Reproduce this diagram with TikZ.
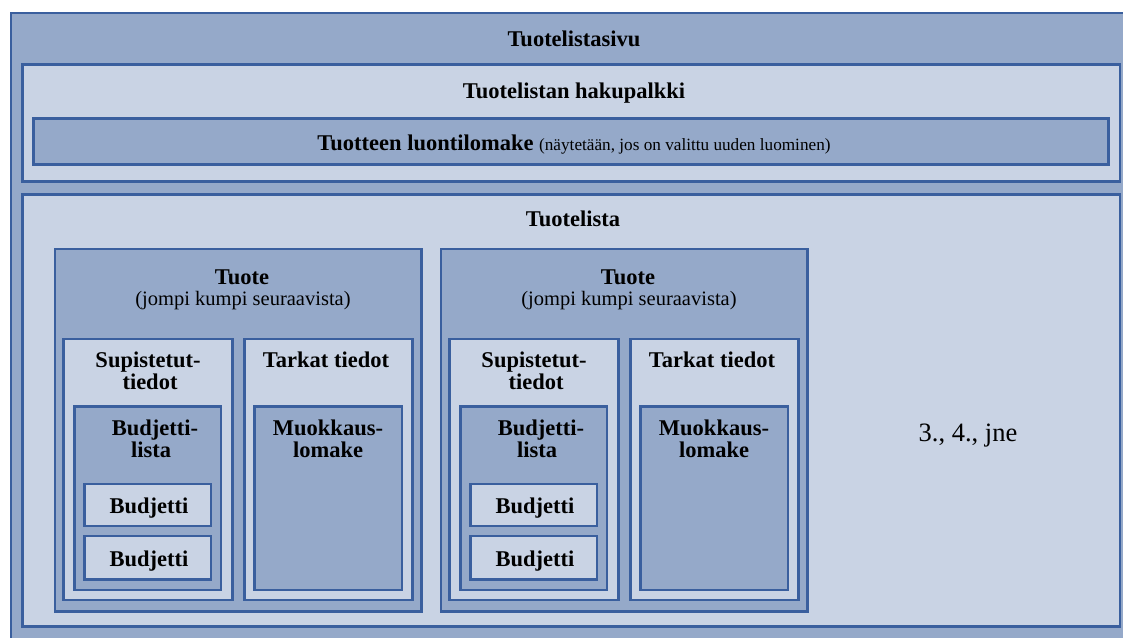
\documentclass[tikz,border=0pt]{standalone}
\usepackage{fontspec}
\setmainfont{Liberation Serif}
\definecolor{frameblue}{HTML}{3A5F9E}
\definecolor{darkfill}{HTML}{95A9C9}
\definecolor{lightfill}{HTML}{C9D3E4}
\tikzset{
  panel/.style={draw=frameblue, line width=2.5pt, inner sep=0pt, outer sep=0pt, anchor=north west},
  darkpanel/.style={panel, fill=darkfill},
  lightpanel/.style={panel, fill=lightfill},
  head/.style={anchor=base, inner sep=0pt, font=\fontsize{22.5}{24}\selectfont\bfseries},
  sub/.style={anchor=base, inner sep=0pt, font=\fontsize{20.5}{22}\selectfont},
}
% \boxnode{name}{x1}{y1}{x2}{y2}{style}: rectangle by its corners (pixel units, y down)
\newcommand\boxnode[6]{%
  \node[#6, minimum width={#4-#2}, minimum height={#5-#3}] (#1) at (#2,#3) {};}
% one product block, shifted by #2 horizontally
\newcommand\productblock[2]{%
  \begin{scope}[xshift=#2]
    \boxnode{tuote#1}{55}{249}{421.3}{611.3}{darkpanel}
    \boxnode{supi#1}{63.3}{338.8}{232.5}{599.8}{lightpanel}
    \boxnode{tark#1}{244.7}{338.8}{412.5}{599.8}{lightpanel}
    \boxnode{blista#1}{74.7}{406.7}{221.2}{589.8}{darkpanel}
    \boxnode{bud#1a}{84.5}{483.8}{211.2}{526.2}{lightpanel}
    \boxnode{bud#1b}{84.5}{536.2}{211.2}{579.5}{lightpanel}
    \boxnode{muok#1}{254.7}{406.7}{401.8}{589.8}{darkpanel}
    \node[head] (tuoteT#1) at (242,284) {Tuote};
    \node[sub] (tuoteS#1) at (243,305) {(jompi kumpi seuraavista)};
    \node[head] (supiA#1) at (148,367) {Supistetut-};
    \node[head] (supiB#1) at (150,389) {tiedot};
    \node[head] (tarkT#1) at (326,367) {Tarkat tiedot};
    \node[head] (blA#1) at (155,435) {Budjetti-};
    \node[head] (blB#1) at (151,457) {lista};
    \node[head] (budTa#1) at (149,513) {Budjetti};
    \node[head] (budTb#1) at (149,566) {Budjetti};
    \node[head] (muA#1) at (328,435) {Muokkaus-};
    \node[head] (muB#1) at (328,457) {lomake};
  \end{scope}}
\begin{document}
\begin{tikzpicture}[x=1pt, y=-1pt]
  \useasboundingbox (0,0) rectangle (1123,637);
  \fill[white] (0,0) rectangle (1123,637);
  \clip (0,0) rectangle (1123,637);
  % page frame, running past the right and bottom edges
  \boxnode{sivu}{11}{13}{1140}{660}{darkpanel}
  \node[head] (sivuT) at (574,46) {Tuotelistasivu};
  % search bar with the creation form
  \boxnode{haku}{22.3}{64.5}{1120}{181.3}{lightpanel}
  \node[head] (hakuT) at (574,98) {Tuotelistan hakupalkki};
  \boxnode{luonti}{33.5}{118.3}{1108.7}{164.5}{darkpanel}
  \node[head] (luontiT) at (574,150) {Tuotteen luontilomake {\fontsize{17.2}{18}\selectfont\mdseries (näytetään, jos on valittu uuden luominen)}};
  % product list
  \boxnode{lista}{22.3}{194.7}{1120}{626.5}{lightpanel}
  \node[head] (listaT) at (573,226) {Tuotelista};
  \productblock{1}{0pt}
  \productblock{2}{386pt}
  \node[anchor=base, inner sep=0pt, font=\fontsize{26.5}{28}\selectfont] (jne) at (968,441) {3., 4., jne};
\end{tikzpicture}
\end{document}
